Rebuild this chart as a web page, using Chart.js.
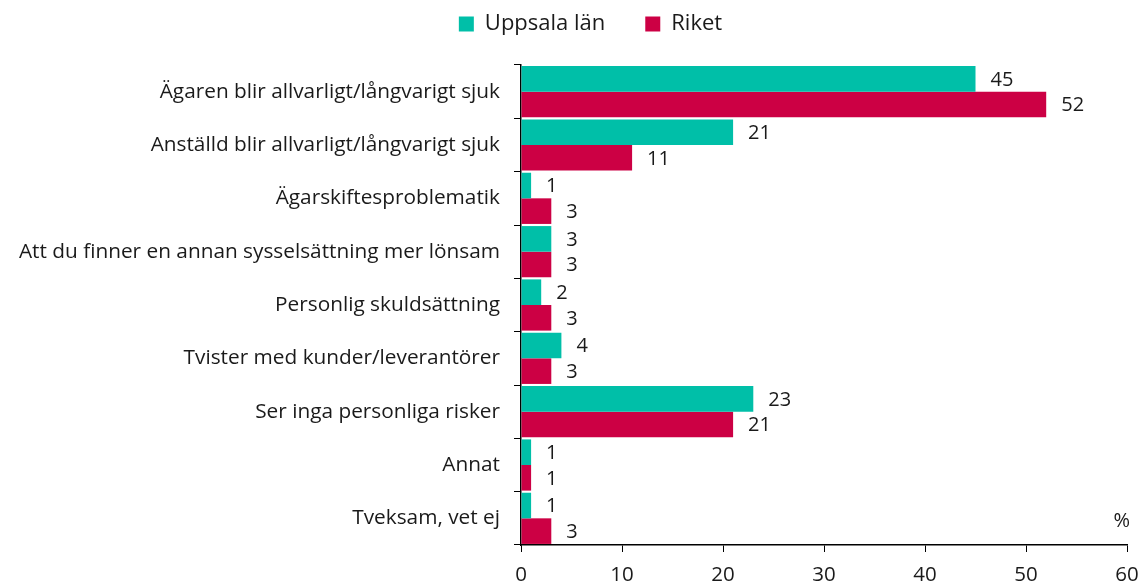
<!DOCTYPE html>
<html><head><meta charset="utf-8">
<script src="https://cdn.jsdelivr.net/npm/chart.js@4"></script>
<style>html,body{margin:0;padding:0;background:#fff}#wrap{width:1143px;height:585px}</style>
</head><body><div id="wrap"><canvas id="c" width="1143" height="585"></canvas></div>
<script>
const categories = ["Ägaren blir allvarligt/långvarigt sjuk","Anställd blir allvarligt/långvarigt sjuk","Ägarskiftesproblematik","Att du finner en annan sysselsättning mer lönsam","Personlig skuldsättning","Tvister med kunder/leverantörer","Ser inga personliga risker","Annat","Tveksam, vet ej"];
const uppsala = [45,21,1,3,2,4,23,1,1];
const riket = [52,11,3,3,3,3,21,1,3];
const seriesNames = ["Uppsala län","Riket"];
const xTicks = [0,10,20,30,40,50,60];
const unitLabel = "%";
const FONT = "'Open Sans', sans-serif";
const TXT = "#1a1a1a";

const valueLabels = {
  id:'valueLabels',
  afterDatasetsDraw(chart){
    const ctx = chart.ctx;
    ctx.save();
    ctx.font = "20px " + FONT;
    ctx.fillStyle = TXT;
    ctx.textAlign = 'left';
    ctx.textBaseline = 'middle';
    chart.data.datasets.forEach((ds,i)=>{
      chart.getDatasetMeta(i).data.forEach((bar,j)=>{
        ctx.fillText(String(ds.data[j]), bar.x + 15, bar.y + 1);
      });
    });
    const a = chart.chartArea;
    ctx.textAlign = 'right';
    ctx.fillText(unitLabel, a.right + 3, a.bottom - 24);
    ctx.restore();
  }
};

const legendPlace = {
  id:'legendPlace',
  beforeLayout(chart){
    const lg = chart.legend;
    if(lg && !lg._patched){
      const f = lg.fit.bind(lg);
      lg.fit = function(){ f(); this.height = 65; };
      lg._patched = true;
    }
  },
  afterLayout(chart){
    const lg = chart.legend;
    if(lg){ lg.top -= 27; lg.bottom -= 27; lg.left += 19; lg.right += 19; }
  }
};

new Chart(document.getElementById('c'), {
  type:'bar',
  data:{
    labels:categories,
    datasets:[
      {label:seriesNames[0], data:uppsala, backgroundColor:'#00BFA8'},
      {label:seriesNames[1], data:riket, backgroundColor:'#CC0044'}
    ]
  },
  options:{
    indexAxis:'y',
    responsive:false,
    animation:false,
    datasets:{bar:{barPercentage:1, categoryPercentage:0.96}},
    layout:{padding:{left:0,right:0,top:0,bottom:0}},
    plugins:{
      legend:{position:'top', labels:{font:{family:FONT,size:22}, color:TXT, boxWidth:15, boxHeight:15, padding:40}},
      tooltip:{enabled:false}
    },
    scales:{
      x:{min:0,max:60,
        afterBuildTicks(s){ s.ticks = xTicks.map(v=>({value:v})); },
        afterFit(s){ s.height = 40; s.paddingRight = 16; s.paddingLeft = 0; },
        grid:{drawOnChartArea:false, drawTicks:true, tickLength:7, color:'#000'},
        border:{color:'#000', width:1.5},
        ticks:{font:{family:FONT,size:20.5}, color:TXT, padding:11}
      },
      y:{
        afterFit(s){ s.width = 521; },
        grid:{drawOnChartArea:false, drawTicks:true, tickLength:7, color:'#000', offset:true},
        border:{color:'#000', width:1.5},
        ticks:{font:{family:FONT,size:20.8}, color:TXT, padding:14}
      }
    }
  },
  plugins:[valueLabels, legendPlace]
});
</script></body></html>
